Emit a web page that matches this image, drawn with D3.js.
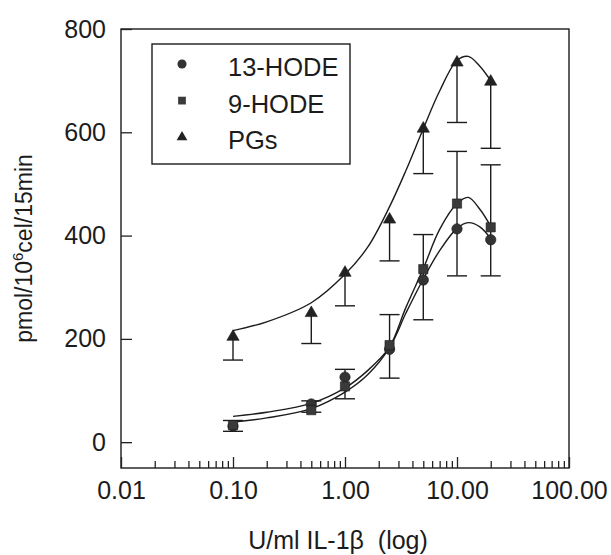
<!DOCTYPE html>
<head>
  <meta charset="utf-8">
  <script src="https://d3js.org/d3.v7.min.js"></script>
  <style>
    body { margin: 0; background: #fff; }
    .axis path { display: none; }
    .axis line { stroke: #222; stroke-width: 1.3; }
    .axis text { font-family: "Liberation Sans", Arial, sans-serif; font-size: 25px; fill: #1c1c1c; }
  </style>
</head>

<body>
  <script>

    // doses (U/ml IL-1b)
    var doses = [0.1, 0.5, 1, 2.5, 5, 10, 20];
    var hode13 = [31, 74, 126, 180, 314, 413, 392];
    var hode9 = [33, 62, 108, 188, 335, 462, 416];
    var pgs = [204, 250, 328, 431, 607, 735, 698];
    // error bars
    var pgLow = [159, 191, 264, 351, 520, 619, 569];
    var hodeHigh = [42, 80, 141, 247, 402, 563, 537];
    var hodeLow = [21, 58, 84, 124, 237, 322, 322];

    // fitted curves
    var fitX = [0.1, 0.2, 0.5, 1, 1.6, 2.5, 3.5, 5, 7, 10, 12.6, 16, 20];
    var fitPgs = [216, 233, 270, 325, 378, 456, 526, 607, 680, 739, 747, 728, 700];
    var fit13 = [50, 58, 75, 105, 139, 184, 250, 316, 371, 414, 425, 417, 394];
    var fit9 = [39, 47, 65, 97, 131, 184, 261, 336, 412, 462, 474, 451, 418];

    var xTicks = [0.01, 0.1, 1, 10, 100];
    var xTickLabels = ["0.01", "0.10", "1.00", "10.00", "100.00"];
    var yTicks = [0, 200, 400, 600, 800];
    var legendNames = ["13-HODE", "9-HODE", "PGs"];

    var w = 611, h = 555;
    var pLeft = 121, pRight = 569, pTop = 29, pBottom = 468;
    var ink = "#1c1c1c";

    var x = d3.scaleLog().domain([0.01, 100]).range([pLeft, pRight]);
    var y = d3.scaleLinear().domain([-50, 800]).range([pBottom, pTop]);

    var svg = d3.select("body").append("svg")
        .attr("width", w)
        .attr("height", h);

    // frame
    svg.append("rect")
        .attr("x", pLeft).attr("y", pTop)
        .attr("width", pRight - pLeft).attr("height", pBottom - pTop)
        .attr("fill", "none").attr("stroke", ink).attr("stroke-width", 1.4);

    // x axis, ticks pointing inward
    var minor = [];
    [0.01, 0.1, 1, 10].forEach(function(d) {
        for (var k = 2; k <= 9; k++) minor.push(d * k);
    });
    svg.append("g").attr("class", "axis")
        .attr("transform", "translate(0," + pBottom + ")")
        .call(d3.axisBottom(x).tickValues(minor).tickFormat("").tickSizeInner(-7).tickSizeOuter(0));
    svg.append("g").attr("class", "axis")
        .attr("transform", "translate(0," + pBottom + ")")
        .call(d3.axisBottom(x).tickValues(xTicks)
            .tickFormat(function(d, i) { return xTickLabels[i]; })
            .tickSizeInner(-11).tickSizeOuter(0).tickPadding(13));

    // y axis
    svg.append("g").attr("class", "axis")
        .attr("transform", "translate(" + pLeft + ",0)")
        .call(d3.axisLeft(y).tickValues(yTicks).tickSizeInner(-11).tickSizeOuter(0).tickPadding(15));

    // axis titles
    svg.append("text")
        .attr("x", (pLeft + pRight) / 2 - 7).attr("y", 549)
        .attr("text-anchor", "middle")
        .style("font-family", "Liberation Sans, Arial, sans-serif")
        .style("font-size", "25px").attr("fill", ink)
        .attr("xml:space", "preserve")
        .text("U/ml IL-1\u03b2  (log)");

    var yt = svg.append("text")
        .attr("transform", "translate(32," + (pTop + pBottom) / 2 + ") rotate(-90)")
        .attr("text-anchor", "middle")
        .style("font-family", "Liberation Sans, Arial, sans-serif")
        .style("font-size", "23px").attr("fill", ink);
    yt.append("tspan").text("pmol/10");
    yt.append("tspan").attr("dy", -9).style("font-size", "15px").text("6");
    yt.append("tspan").attr("dy", 9).text("cel/15min");

    // fitted curves
    var line = d3.line()
        .x(function(d) { return x(d[0]); })
        .y(function(d) { return y(d[1]); })
        .curve(d3.curveCatmullRom.alpha(0.5));
    [fitPgs, fit13, fit9].forEach(function(s) {
        svg.append("path")
            .datum(fitX.map(function(d, i) { return [d, s[i]]; }))
            .attr("d", line)
            .attr("fill", "none").attr("stroke", ink).attr("stroke-width", 1.4);
    });

    // error bars
    function errBars(lo, hi) {
        var g = svg.append("g").attr("stroke", ink).attr("stroke-width", 1.4);
        doses.forEach(function(d, i) {
            var cx = x(d);
            g.append("line").attr("x1", cx).attr("x2", cx).attr("y1", y(lo[i])).attr("y2", y(hi[i]));
            g.append("line").attr("x1", cx - 10).attr("x2", cx + 10).attr("y1", y(lo[i])).attr("y2", y(lo[i]));
        });
    }
    errBars(pgLow, pgs);
    errBars(hodeLow, hodeHigh);
    svg.append("g").attr("stroke", ink).attr("stroke-width", 1.4)
        .selectAll("line").data(doses).enter().append("line")
        .attr("x1", function(d) { return x(d) - 10; })
        .attr("x2", function(d) { return x(d) + 10; })
        .attr("y1", function(d, i) { return y(hodeHigh[i]); })
        .attr("y2", function(d, i) { return y(hodeHigh[i]); });

    // markers
    var symCircle = d3.symbol().type(d3.symbolCircle).size(85);
    var symSquare = d3.symbol().type(d3.symbolSquare).size(85);
    var symTri = d3.symbol().type(d3.symbolTriangle).size(65);
    var shapes = [symCircle, symSquare, symTri];
    var fills = ["#333", "#3a3a3a", "#222"];

    [hode13, hode9, pgs].forEach(function(s, k) {
        svg.append("g").selectAll("path")
            .data(doses).enter().append("path")
            .attr("transform", function(d, i) { return "translate(" + x(d) + "," + y(s[i]) + ")"; })
            .attr("d", shapes[k])
            .attr("fill", fills[k]).attr("stroke", "#1a1a1a").attr("stroke-width", 0.6);
    });

    // legend
    var lg = svg.append("g");
    lg.append("rect")
        .attr("x", 152).attr("y", 44).attr("width", 198).attr("height", 120)
        .attr("fill", "#fff").attr("stroke", ink).attr("stroke-width", 1.4);
    legendNames.forEach(function(name, k) {
        var ly = 64 + k * 36.6;
        lg.append("path")
            .attr("transform", "translate(182," + ly + ")")
            .attr("d", d3.symbol().type([d3.symbolCircle, d3.symbolSquare, d3.symbolTriangle][k]).size([65, 60, 50][k]))
            .attr("fill", fills[k]);
        lg.append("text")
            .attr("x", 228).attr("y", ly + 12)
            .style("font-family", "Liberation Sans, Arial, sans-serif")
            .style("font-size", "25.5px").attr("fill", ink)
            .text(name);
    });
  </script>
</body>
